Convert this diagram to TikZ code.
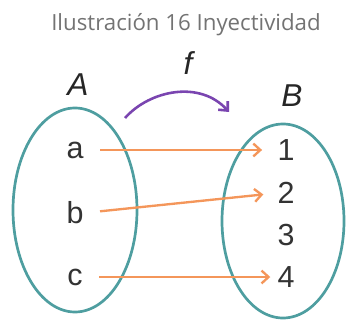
\documentclass[tikz,border=0pt]{standalone}
\usepackage{fontspec}
\setmainfont{Liberation Sans}
\newfontfamily\titlefont{Open Sans}
\usetikzlibrary{arrows.meta}
\definecolor{col_set}{HTML}{4E9EA0}   % colour of the two sets
\definecolor{col_map}{HTML}{F4965A}   % colour of the arrows
\definecolor{col_f}{HTML}{7A45B0}     % colour of f
\tikzset{
  setline/.style={line width=2.3pt,draw=col_set},
  maparrow/.style={line width=2pt,draw=col_map,-{Straight Barb[length=6pt,width=11pt]}},
  elem/.style={inner sep=0pt,font=\fontsize{26}{26}\selectfont,text=black!80},
  setname/.style={font=\fontsize{27}{27}\selectfont\itshape,text=black!85}
}
\begin{document}
\begin{tikzpicture}[x=0.03cm,y=-0.03cm]
    \useasboundingbox (0,0) rectangle (349,321);
    \node[font=\titlefont\fontsize{19}{19}\selectfont,text=black!55] (title) at (186,25) {Ilustración 16 Inyectividad};
    \draw[setline] (75,210) ellipse [x radius=62,y radius=102];
    \draw[setline] (283,221) ellipse [x radius=61,y radius=97];
    \node[setname] (A) at (78,85) {A};
    \node[setname] (B) at (292,96) {B};
    \node[setname] (f) at (188,63) {f};
    \node[elem] (a) at (75,150) {a};
    \node[elem] (b) at (75,213) {b};
    \node[elem] (c) at (75,277) {c};
    \node[elem] (n1) at (286,150) {1};
    \node[elem] (n2) at (286,193) {2};
    \node[elem] (n3) at (286,235) {3};
    \node[elem] (n4) at (286,277) {4};
    \coordinate (fs) at (125,118);
    \coordinate (fe) at (229,112);
    \draw[line width=2.2pt,draw=col_f,-{Straight Barb[length=6pt,width=11pt]}] (fs) .. controls (150,90) and (200,80) .. (fe);
    \draw[maparrow,shorten <=14pt,shorten >=13pt] (a.east) -- (n1.west);
    \draw[maparrow,shorten <=14pt,shorten >=12pt] (b.east) -- (n2.west);
    \draw[maparrow,shorten <=14pt,shorten >=6pt] (c.east) -- (n4.west);
\end{tikzpicture}
\end{document}
